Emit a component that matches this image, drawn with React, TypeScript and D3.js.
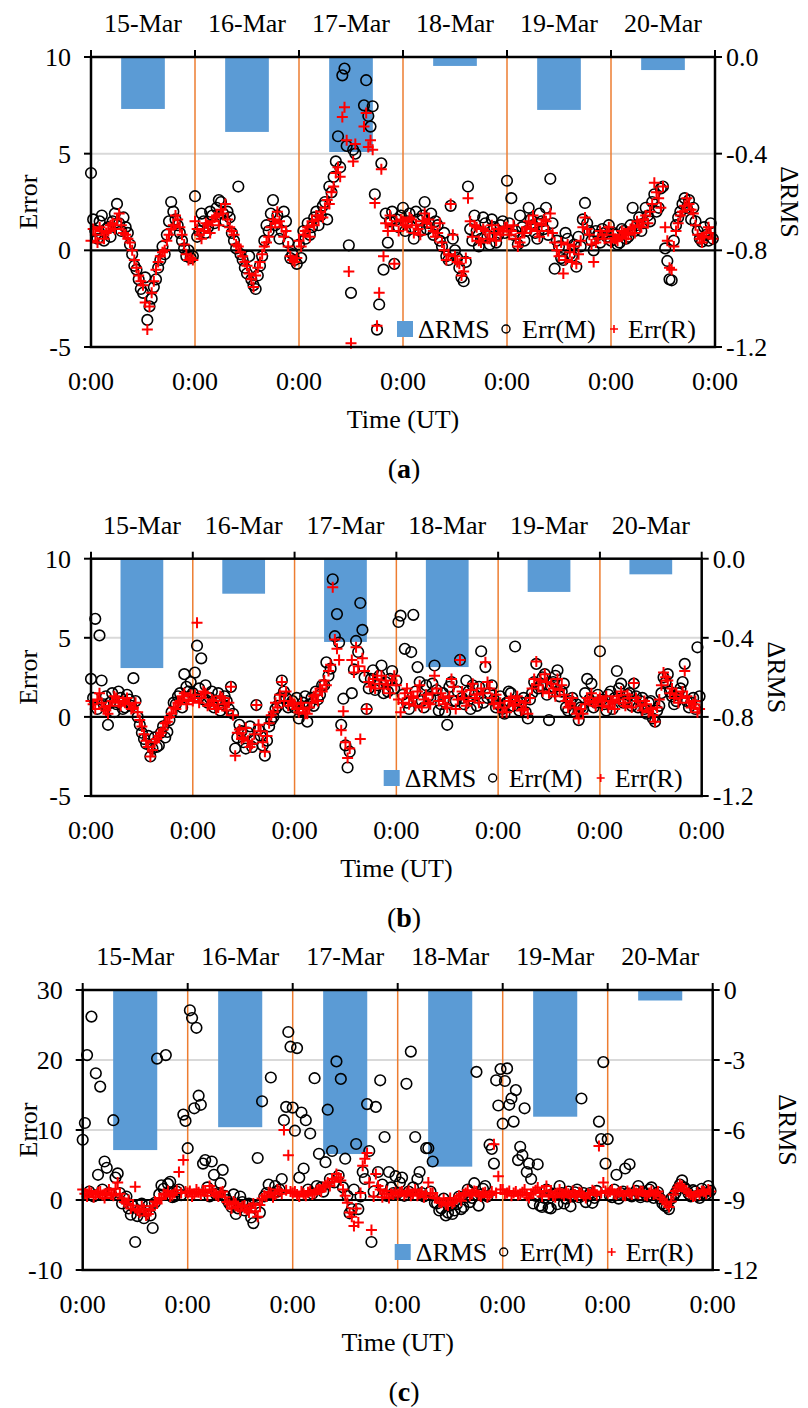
import React from 'react';
import * as d3 from 'd3';

const FONT = "'Liberation Serif', 'Times New Roman', serif";

const days = ['15-Mar', '16-Mar', '17-Mar', '18-Mar', '19-Mar', '20-Mar'];
const hourTicks = [0, 24, 48, 72, 96, 120, 144];
const hourTickLabel = '0:00';

// half-hourly errors, one row per day (null = no sample)
// panel (a)
const rmsA = [-0.215, -0.31, -0.393, -0.037, -0.219, -0.054];
const errMA = [
  [4.0, 1.6, 1.0, 0.6, 1.5, 1.8, 0.5, 1.1, 1.2, 0.7, 1.5, 1.9, 2.4, 1.4, 1.0, 1.7, 1.2, 0.9, 0.3, -0.2, -0.8, -1.0, -1.5, -2.0, -2.2, -1.4, -3.6, -2.9, -2.5, -1.9, -1.5, -0.9, -0.5, 0.2, -0.2, 0.8, 1.5, 2.5, 2.0, 1.6, 1.3, 0.9, 0.5, 0.1, -0.3, 0.0, -0.4, -0.3],
  [2.8, 0.7, 1.0, 1.9, 1.5, 0.9, 1.2, 2.0, 1.8, 1.4, 2.2, 2.6, 2.5, 1.9, 1.5, 2.0, 1.7, 0.9, 0.5, 0.1, 3.3, -0.2, -0.5, -0.9, -1.2, -0.3, -1.5, -1.8, -2.0, -1.3, -0.8, -0.3, 0.5, 1.3, 1.0, 1.9, 2.6, 1.3, 1.8, 0.6, 1.0, 2.0, 1.5, 0.4, -0.4, -0.2, -0.5, -0.7],
  [0.3, -0.4, 1.0, 0.6, 1.4, 0.8, 1.2, 1.7, 2.0, 1.3, 1.8, 2.3, 2.5, 1.6, 3.3, 3.0, 3.8, 4.6, 5.9, 4.3, 9.05, 9.4, 5.4, 0.26, -2.2, 5.2, 5.0, null, null, null, 7.5, 8.8, 6.95, 6.4, 7.45, 2.9, -4.1, -2.8, 4.5, -1.0, 1.9, 0.4, 1.5, 2.0, -0.7, 1.6, 1.2, 1.8],
  [2.2, 1.0, 1.5, 1.9, 1.2, 0.6, 2.0, 1.6, 1.0, 1.8, 2.5, 1.1, 1.4, 1.9, 0.8, 1.5, 1.3, 0.5, 0.2, 0.9, -0.3, -0.5, 2.3, 0.6, 0.0, -0.4, -0.9, -1.4, -1.6, -0.6, 3.3, 1.1, 0.5, 1.8, 1.0, 0.2, 0.6, 1.7, 1.4, 0.7, 0.3, 1.6, 1.2, 0.4, 0.8, 1.3, 1.5, 0.9],
  [3.6, 1.4, 2.7, 0.8, 1.0, 0.3, 1.8, 1.2, 0.5, 1.0, 2.2, 1.6, 1.3, 0.9, 0.6, 1.9, 1.5, 1.1, 2.2, 0.8, 3.7, 1.4, -0.95, 0.5, 0.2, -0.4, -0.5, 0.9, 0.6, -0.2, -0.3, 0.3, -0.85, 0.7, 0.2, 1.6, 2.45, 1.4, 1.0, 0.5, 0.0, 1.0, 0.8, 0.4, 1.1, 0.9, 0.7, 1.3],
  [0.5, 0.9, 0.8, 0.3, 0.4, 1.1, 1.0, 0.6, 0.7, 1.3, 2.2, 1.0, 1.3, 1.7, 1.0, 1.4, 2.2, 1.8, 1.5, 2.5, 2.9, 2.0, 2.2, 3.2, 3.3, 0.1, -0.55, -1.5, -1.55, 0.5, 1.3, 1.7, 2.0, 2.4, 2.7, 2.2, 2.6, 1.6, 2.2, 1.5, 1.0, 0.6, 0.45, 1.2, 0.8, 0.5, 1.4, 0.6],
];
const errRA = [
  [0.5, 1.1, 0.8, 0.4, 1.2, 1.0, 0.6, 0.9, 1.0, 1.3, 1.4, 1.1, 1.6, 1.9, 1.3, 0.9, 0.8, 0.6, 0.4, 0.0, -0.5, -0.9, -1.3, -1.6, -1.8, -2.7, -4.1, -2.9, -2.2, -1.6, -1.0, -0.6, -0.3, -0.1, 0.0, 0.5, 0.8, 1.1, 1.3, 1.8, 1.6, 1.2, 0.8, 0.3, -0.2, -0.5, -0.4, -0.5],
  [1.5, 1.1, 0.8, 0.6, 1.0, 1.4, 1.3, 0.9, 1.5, 1.7, 1.8, 1.3, 2.1, 1.9, 2.4, 1.6, 1.2, 1.0, 0.8, 0.3, 0.2, -0.1, -0.3, -0.6, -0.8, -1.2, -1.5, -1.9, -1.3, -0.9, -0.6, -0.2, 0.2, 0.4, 0.7, 1.2, 1.6, 1.4, 2.0, 1.5, 1.2, 0.7, 1.0, 0.2, -0.3, -0.5, -0.6, -0.4],
  [0.5, 0.2, 0.8, 1.0, 1.2, 0.7, 1.5, 1.3, 1.8, 1.6, 2.0, 1.7, 2.2, 2.6, 2.4, 3.0, 3.3, 4.0, 4.3, 3.8, 6.9, 7.4, 5.7, -1.1, -4.8, 4.6, 5.5, null, null, null, 6.4, 7.1, 5.35, 5.7, 5.2, 2.45, -3.9, -2.2, 4.2, -0.3, 1.4, 1.0, 1.8, 1.3, -0.7, 1.5, 1.0, 1.6],
  [1.5, 1.3, 1.2, 1.7, 1.6, 0.9, 1.3, 1.1, 0.8, 1.5, 1.9, 1.4, 1.6, 1.2, 1.0, 0.7, 0.9, 1.4, 0.4, 0.0, -0.5, -0.2, 2.4, 0.8, -0.3, -0.6, -0.7, -1.3, -1.1, -0.4, 2.7, 1.5, 0.7, 1.3, 1.2, 0.5, 0.4, 1.1, 1.0, 0.6, 0.6, 1.3, 0.9, 0.5, 1.1, 0.8, 1.0, 1.2],
  [1.2, 0.8, 1.0, 1.3, 0.6, 0.2, 0.4, 0.9, 0.9, 1.2, 1.5, 1.1, 1.8, 1.4, 1.0, 0.7, 1.3, 1.6, 1.5, 1.0, 1.9, 0.9, 0.4, 0.0, -0.3, 0.4, -1.2, -0.5, 0.3, -0.1, -0.6, 0.2, -0.7, -0.2, 0.5, 1.2, 1.7, 1.1, 0.8, 0.3, -0.6, 0.4, 0.6, 1.0, 0.8, 0.6, 1.0, 1.2],
  [0.4, 0.8, 0.6, 0.5, 0.7, 1.0, 0.9, 0.6, 0.8, 1.1, 1.2, 0.9, 1.5, 1.3, 1.2, 1.6, 1.8, 1.4, 2.0, 2.4, 3.5, 3.0, 2.7, 2.2, 3.3, 1.2, 0.5, -0.9, -1.0, 0.2, 1.0, 1.4, 1.8, 2.0, 2.3, 2.7, 2.4, 2.1, 1.9, 1.3, 0.8, 0.6, 0.4, 0.7, 0.9, 1.2, 0.9, 0.6],
];

// panel (b)
const rmsB = [-0.553, -0.177, -0.421, -0.548, -0.168, -0.079];
const errMB = [
  [2.4, 1.2, 6.2, 0.5, 5.15, 2.3, 0.8, 1.3, -0.5, 0.9, 1.5, 0.3, 0.8, 1.6, 1.2, 0.5, 0.6, 1.4, 1.1, 0.7, 2.45, 1.0, 0.0, -0.5, -1.0, -1.4, -1.7, -1.2, -2.5, -2.0, -1.3, -1.9, -1.8, -1.0, -0.6, -1.3, -0.95, -0.2, 0.3, 0.9, 0.8, 1.3, 1.5, 0.6, 2.7, 1.9, 1.6, 2.2],
  [1.5, 2.8, 4.5, 1.8, 3.7, 1.1, 2.0, 0.9, 1.2, 1.6, 0.6, 1.0, 1.5, 0.4, 0.8, 1.3, 1.0, 0.5, 1.9, 0.2, -2.0, -1.3, -0.5, -0.9, -1.6, -2.0, -1.0, -0.6, -1.9, -1.4, 0.75, -0.8, -1.2, -1.8, -2.45, -1.5, -0.6, -0.2, 0.0, 0.5, 0.7, 1.2, 2.3, 1.6, 1.2, 0.6, 0.8, 1.0],
  [0.6, 1.2, -0.1, 0.4, 0.9, 1.3, -0.3, 0.8, 1.2, 0.7, 1.6, 1.1, 1.4, 2.0, 2.0, 3.45, 2.6, 3.05, 8.7, 5.1, 6.5, 4.7, -0.5, 1.15, -1.8, -3.2, -2.2, 1.5, 3.0, 4.8, 4.1, 7.2, 5.5, 2.5, 0.5, 1.8, 2.4, 2.95, 1.7, 2.0, 2.6, 3.25, 1.5, 2.2, 1.6, 2.4, 2.9, 1.8],
  [2.3, 6.0, 6.4, 1.4, 4.3, 0.9, 0.5, 4.1, 6.45, 1.6, 3.15, 2.2, 1.0, 0.6, 2.0, 1.3, 1.2, 2.1, 3.25, 1.7, 0.4, 0.8, 1.5, 0.3, -0.5, 1.9, 2.2, 1.0, 1.0, 1.6, 3.6, 1.2, 0.8, 2.3, 1.6, 0.5, 2.0, 1.4, 0.7, 1.9, 4.15, 0.9, 3.15, 1.2, 1.5, 2.0, 1.1, 0.6],
  [0.8, 1.3, 0.5, 0.2, 0.9, 1.6, 1.5, 0.7, 4.45, 1.0, 0.4, 0.9, 1.2, 0.3, -0.1, 1.1, 1.5, 2.2, 3.35, 1.8, 2.0, 2.5, 2.7, 1.4, -0.2, 1.9, 2.2, 2.6, 2.95, 1.3, 1.6, 2.1, 0.6, 0.4, 1.0, 1.2, 0.3, 0.8, -0.2, 0.6, 0.5, 1.5, 2.4, 1.1, 2.1, 0.6, 0.9, 1.4],
  [4.15, 1.1, 0.8, 0.4, 1.4, 1.6, 0.5, 1.2, 2.9, 1.8, 2.1, 0.9, 1.0, 1.4, 1.5, 0.7, 2.1, 1.3, 0.6, 1.0, 1.2, 0.5, 0.2, 0.9, 1.0, -0.1, -0.3, 0.4, 0.7, 1.5, 2.5, 2.2, 2.7, 1.6, 1.3, 0.8, 1.0, 1.5, 1.8, 2.2, 3.35, 1.0, 0.6, 0.9, 1.2, 0.5, 4.4, 1.3],
];
const errRB = [
  [1.0, 0.8, 0.5, 1.1, 1.5, 0.9, 0.6, 0.4, 0.2, 0.7, 1.0, 1.3, 1.2, 0.9, 0.7, 1.0, 0.9, 1.2, 0.8, 0.5, 0.6, 0.9, 0.3, -0.2, -0.6, -1.1, -1.5, -1.9, -2.5, -2.1, -1.6, -1.4, -1.2, -1.0, -0.8, -0.4, -0.3, 0.0, 0.2, 0.6, 0.5, 0.9, 1.0, 1.3, 1.5, 0.8, 1.1, 1.4],
  [1.0, 1.4, 5.95, 0.9, 1.2, 1.6, 1.5, 0.7, 0.8, 1.1, 1.0, 0.5, 0.6, 1.3, 1.2, 0.8, 0.4, 0.9, 1.9, 0.1, -2.45, -1.0, -0.8, -1.4, -1.3, -0.7, -1.5, -1.9, -1.7, -1.1, 0.75, -0.5, -0.9, -1.6, -2.2, -1.2, -0.4, 0.1, 0.3, 0.9, 0.6, 1.4, 2.2, 1.0, 1.6, 0.7, 1.0, 0.9],
  [0.8, 0.5, 0.3, 0.9, 0.5, 0.2, 0.2, 0.6, 0.9, 1.3, 1.4, 1.0, 1.8, 1.6, 2.3, 2.0, 2.9, 3.3, 8.2, 4.9, 4.3, 3.6, -0.85, 0.35, -1.6, -2.6, -2.0, 3.6, 2.8, 4.4, 3.2, -1.4, 3.7, 2.9, 0.5, 2.2, 1.9, 2.4, 1.8, 2.6, 2.1, 2.6, 1.8, 2.3, 2.0, 1.5, 2.3, 2.6],
  [2.0, 1.1, 0.3, 0.9, 1.5, 1.8, 0.8, 1.3, 1.2, 0.7, 1.6, 2.0, 0.6, 1.1, 1.4, 0.9, 0.8, 1.5, 2.6, 1.8, 1.0, 1.5, 1.2, 0.8, 0.6, 1.3, 2.4, 1.9, 0.5, 1.1, 3.6, 1.6, 1.2, 0.7, 1.0, 1.7, 2.1, 1.2, 1.4, 0.9, 1.8, 1.5, 3.45, 2.2, 1.8, 1.2, 0.8, 1.4],
  [0.6, 0.9, 0.3, 0.6, 0.3, 1.0, 1.2, 0.7, 0.8, 1.3, 1.0, 0.4, 0.5, 0.9, 0.2, 1.2, 1.8, 2.4, 3.5, 2.0, 2.3, 1.6, 2.7, 2.2, 1.5, 2.1, 1.8, 1.3, 2.4, 1.7, 2.0, 1.4, 1.0, 0.6, 0.8, 1.2, 0.6, 0.2, -0.1, 0.5, 0.2, 0.8, 1.2, 1.0, 1.5, 0.9, 0.7, 1.1],
  [1.2, 0.7, 1.0, 1.3, 0.6, 1.0, 0.9, 0.5, 1.3, 1.1, 1.6, 0.9, 0.7, 1.4, 1.2, 0.6, 2.15, 1.2, 1.0, 0.7, 0.4, 1.0, 0.8, 0.3, 0.5, 0.1, -0.3, 0.6, 1.1, 2.0, 2.8, 2.5, 2.3, 1.5, 1.8, 1.2, 1.4, 0.9, 1.2, 1.6, 2.9, 1.3, 0.9, 0.6, 0.8, 1.0, 0.3, 0.5],
];

// panel (c)
const rmsC = [-6.86, -5.88, -7.03, -7.57, -5.43, -0.45];
const errMC = [
  [8.6, 11.0, 20.7, 1.2, 26.2, 0.5, 18.1, 3.6, 16.2, 1.5, 5.5, 4.6, 1.0, 0.8, 11.4, 3.2, 3.8, 1.0, -0.5, 0.2, 0.5, -1.2, -2.1, -0.9, -6.0, -2.3, -1.5, -0.5, -2.6, -1.6, -0.8, -2.2, -4.0, -0.4, 20.2, 0.8, 2.1, 1.6, 20.7, 2.3, 2.6, 0.4, 0.5, 1.2, 1.5, 0.7, 12.2, 11.3],
  [7.4, 27.1, 26.0, 13.1, 24.6, 14.9, 13.6, 5.2, 5.7, 1.8, 0.5, 5.5, 3.6, 0.8, 1.0, 2.4, 4.3, 0.6, 0.0, -0.5, -1.0, 0.8, -2.0, -1.2, 0.5, -0.3, -1.5, -0.8, -0.5, -2.5, -3.3, -1.0, 6.0, -1.8, 14.1, 0.5, 1.0, 2.2, 17.5, 0.9, 2.0, 1.2, 1.5, 3.0, 11.4, 13.3, 24.0, 21.9],
  [13.2, 9.9, 21.7, 3.2, 12.5, 4.5, 11.4, 1.5, 9.5, 0.9, 17.4, 2.0, 6.6, 1.8, 1.2, 5.4, 12.9, 3.0, 7.0, 2.5, 19.8, 3.5, 17.3, 1.8, 5.9, 0.6, -1.9, -1.3, 1.5, 8.0, -1.3, 0.5, 4.0, 3.0, 13.7, 7.0, -6.0, 1.2, 13.3, 4.0, 17.1, 2.2, 9.0, 0.6, 4.0, 1.8, 1.0, 3.4],
  [1.0, 2.5, 3.2, 0.6, 16.6, 1.2, 21.2, 1.8, 9.0, 3.0, 4.0, 1.0, 0.5, 7.4, 7.4, 1.2, 5.5, -0.4, -0.5, -1.5, -1.2, 0.2, -2.2, -1.8, -0.8, -2.0, -1.5, -0.6, 0.5, -1.3, -1.0, 0.4, 1.5, -0.3, 0.3, 2.4, 18.3, -0.8, 0.8, 1.6, 2.0, 0.5, 7.9, 7.3, 5.2, 17.1, 13.5, 18.7],
  [10.9, 17.0, 18.8, 13.6, 14.5, 11.2, 15.7, 5.7, 7.6, 6.4, 13.1, 4.0, 5.2, 3.0, -0.5, 0.6, 5.1, -0.8, -1.0, 0.3, 1.5, -1.1, -1.2, 0.9, 0.8, -0.6, 2.0, 1.0, -0.5, 0.2, 1.2, -0.9, 0.5, 1.1, 1.5, 0.4, 14.5, 1.0, -0.3, 0.6, 1.0, -0.4, 0.3, 1.3, 11.2, 8.7, 19.7, 5.2],
  [8.7, 0.6, 0.4, 1.5, 3.6, 0.2, 1.0, 1.2, 4.5, 0.9, 5.1, 0.5, 0.8, 1.3, 2.0, 0.4, 1.2, 1.0, 0.5, 1.5, 1.8, 0.3, 0.8, 1.1, 0.2, -0.5, -0.8, -1.0, -1.3, 0.2, 0.5, 1.0, 1.6, 2.2, 2.8, 1.8, 1.5, 0.9, 0.5, 1.4, 1.2, 0.6, 0.3, 1.6, 1.0, 0.8, 2.0, 1.3],
];
const errRC = [
  [1.5, 0.9, 0.5, 1.3, 1.0, 0.4, 0.8, 1.1, 1.2, 0.7, 0.3, 1.0, 1.5, 0.8, 0.6, 1.6, 2.5, 0.9, 0.2, -0.3, -0.5, 0.0, -1.2, -0.8, 1.9, -1.5, -1.8, -0.9, -1.3, -2.2, -2.0, -1.4, -0.9, -0.2, -0.5, 0.1, 0.3, 0.9, 0.8, 1.3, 0.5, 0.7, 1.0, 1.4, 4.0, 1.0, 5.7, 1.2],
  [1.0, 1.3, 0.5, 0.9, 1.5, 1.1, 0.8, 1.4, 1.2, 0.6, 2.0, 1.5, 1.0, 0.7, 0.5, 1.1, 1.2, 0.4, -0.3, -0.6, -1.2, -0.2, -0.5, -1.0, -1.5, -0.9, -0.8, -1.4, -1.8, -1.1, -0.5, -1.6, -2.4, -0.7, 0.2, 0.6, 0.5, 1.1, 1.0, 0.4, 0.8, 1.5, 1.3, 0.9, 10.0, 1.4, 6.4, 1.2],
  [1.0, 1.2, 0.8, 0.5, 1.2, 0.9, 0.6, 1.1, 1.3, 0.8, 1.0, 1.4, 1.5, 1.2, 1.8, 2.1, 2.5, 2.0, 3.0, 2.6, 3.7, 3.2, 2.8, 1.5, 0.6, -0.4, -1.8, -2.4, -3.7, -1.2, -3.2, 1.0, 4.9, 5.9, 6.7, 2.5, -4.3, 0.5, 3.7, 2.0, 1.5, 0.4, 0.9, 1.3, 0.3, 0.9, 0.8, 1.1],
  [0.8, 1.1, 1.2, 0.7, 1.0, 1.3, 0.6, 0.9, 1.5, 0.6, 0.9, 1.2, 0.4, 0.8, 2.5, 1.0, 1.0, 0.3, 0.2, -0.3, -0.4, 0.1, -0.6, -0.8, 0.3, -0.5, -0.2, 0.2, 0.6, -0.1, 0.8, 1.0, 1.4, 0.6, 0.9, 1.3, 1.2, 0.7, 0.5, 1.0, 1.1, 0.4, 0.7, 1.2, 7.95, 1.0, 3.4, 1.5],
  [1.5, 0.9, 1.0, 1.3, 0.6, 1.0, 1.2, 0.7, 0.8, 1.1, 1.5, 0.6, 0.3, 0.9, 1.0, 1.4, 1.8, 1.1, 0.5, 1.3, 2.0, 0.8, 1.2, 0.6, 0.4, 1.0, 1.5, 0.9, 0.6, 1.2, 0.9, 0.4, 1.3, 0.8, 0.5, 1.1, 1.0, 0.6, 0.3, 0.9, 0.8, 1.4, 1.2, 0.7, 7.7, 1.0, 2.5, 1.3],
  [1.0, 1.2, 1.5, 0.9, 0.8, 1.1, 1.2, 0.7, 0.6, 1.3, 1.0, 0.8, 1.4, 1.0, 0.9, 1.3, 1.2, 0.7, 0.6, 1.0, 1.3, 0.8, 0.9, 1.2, 0.5, 0.1, -0.3, -0.6, -1.0, -0.2, 0.8, 1.3, 1.8, 2.2, 2.0, 1.6, 1.2, 1.0, 0.8, 0.5, 0.6, 1.1, 0.8, 1.3, 1.2, 0.9, 1.5, 1.2],
];

const errTicksAB = [-5, 0, 5, 10];
const rmsTicksAB = [-1.2, -0.8, -0.4, 0.0];
const errTicksC = [-10, 0, 10, 20, 30];
const rmsTicksC = [-12, -9, -6, -3, 0];

const panels = [
  { tag: 'a', left: 91, right: 715, top: 57, bottom: 347, yDom: [-5, 10], yTicks: errTicksAB, rDom: [-1.2, 0], rTicks: rmsTicksAB, rFmt: d3.format('.1f'), rms: rmsA, errM: errMA, errR: errRA },
  { tag: 'b', left: 91, right: 701.7, top: 558.7, bottom: 796, yDom: [-5, 10], yTicks: errTicksAB, rDom: [-1.2, 0], rTicks: rmsTicksAB, rFmt: d3.format('.1f'), rms: rmsB, errM: errMB, errR: errRB },
  { tag: 'c', left: 82.7, right: 712.7, top: 990, bottom: 1270, yDom: [-10, 30], yTicks: errTicksC, rDom: [-12, 0], rTicks: rmsTicksC, rFmt: d3.format('d'), rms: rmsC, errM: errMC, errR: errRC },
];

const plain = (s: string) => s.replace('\u2212', '-');

// flatten day rows into [hour, value] samples
const samples = (rows: (number | null)[][]) =>
  rows.flatMap((row, d) =>
    row.map((v, k) => [d * 24 + (k * 24) / row.length, v] as [number, number | null]).filter((s) => s[1] !== null)
  ) as [number, number][];

function Panel({ p }: { p: any }) {
  const x = d3.scaleLinear().domain([0, 144]).range([p.left, p.right]);
  const y = d3.scaleLinear().domain(p.yDom).range([p.bottom, p.top]);
  const yr = d3.scaleLinear().domain(p.rDom).range([p.bottom, p.top]);
  const band = d3.scaleBand().domain(days).range([p.left, p.right]).paddingInner(0.58).paddingOuter(0.29);
  const midX = (p.left + p.right) / 2;
  const midY = (p.top + p.bottom) / 2;
  const lx = p.right - 318;
  const ly = p.bottom - 18;
  const cross = (cx: number, cy: number, s = 5.5) => `M${cx - s},${cy}H${cx + s}M${cx},${cy - s}V${cy + s}`;
  const ms = samples(p.errM);
  const rs = samples(p.errR);

  return (
    <g fontFamily={FONT} fontSize={26} fill="#000">
      {p.yTicks.filter((t: number) => t !== 0 && t !== p.yDom[0] && t !== p.yDom[1]).map((t: number) => (
        <line key={t} x1={p.left} x2={p.right} y1={y(t)} y2={y(t)} stroke="#d9d9d9" strokeWidth={2} />
      ))}
      {p.rms.map((v: number, i: number) => (
        <rect key={i} x={band(days[i])} width={band.bandwidth()} y={yr(0)} height={yr(v) - yr(0)} fill="#5b9bd5" />
      ))}
      <line x1={p.left} x2={p.right} y1={y(0)} y2={y(0)} stroke="#000" strokeWidth={2.2} />
      {hourTicks.slice(1, -1).map((h) => (
        <line key={h} x1={x(h)} x2={x(h)} y1={p.top} y2={p.bottom} stroke="#ed7d31" strokeWidth={1.5} />
      ))}
      {ms.map(([h, v], i) => (
        <circle key={i} cx={x(h)} cy={y(v)} r={5.3} fill="none" stroke="#000" strokeWidth={1.6} />
      ))}
      <path d={rs.map(([h, v]) => cross(x(h), y(v))).join('')} stroke="#ff0000" strokeWidth={2} fill="none" />
      <rect x={p.left} y={p.top} width={p.right - p.left} height={p.bottom - p.top} fill="none" stroke="#000" strokeWidth={2.5} />
      {hourTicks.map((h) => (
        <line key={h} x1={x(h)} x2={x(h)} y1={p.top - 7} y2={p.top} stroke="#000" strokeWidth={2} />
      ))}
      {p.yTicks.map((t: number) => (
        <g key={t}>
          <line x1={p.left - 7} x2={p.left} y1={y(t)} y2={y(t)} stroke="#000" strokeWidth={2} />
          <text x={p.left - 20} y={y(t)} dy="0.34em" textAnchor="end">{plain(String(t))}</text>
        </g>
      ))}
      {p.rTicks.map((t: number) => (
        <g key={t}>
          <line x1={p.right} x2={p.right + 7} y1={yr(t)} y2={yr(t)} stroke="#000" strokeWidth={2} />
          <text x={p.right + 11} y={yr(t)} dy="0.34em" textAnchor="start">{plain(p.rFmt(t))}</text>
        </g>
      ))}
      {days.map((d) => (
        <text key={d} x={band(d)! + band.bandwidth() / 2} y={p.top - 25} textAnchor="middle">{d}</text>
      ))}
      {hourTicks.map((h) => (
        <text key={h} x={x(h)} y={p.bottom + 43} textAnchor="middle">{hourTickLabel}</text>
      ))}
      <text x={midX} y={p.bottom + 81} textAnchor="middle">Time (UT)</text>
      <text transform={`translate(28,${midY}) rotate(-90)`} textAnchor="middle" dy="0.35em">Error</text>
      <text transform={`translate(${p.right + 75},${midY}) rotate(90)`} textAnchor="middle" dy="0.35em">ΔRMS</text>
      <rect x={lx} y={ly - 8} width={16} height={16} fill="#5b9bd5" />
      <text x={lx + 21} y={ly + 9}>ΔRMS</text>
      <circle cx={lx + 109} cy={ly} r={4} fill="none" stroke="#000" strokeWidth={1.4} />
      <text x={lx + 125} y={ly + 9}>Err(M)</text>
      <path d={cross(lx + 217, ly, 4)} stroke="#ff0000" strokeWidth={1.6} />
      <text x={lx + 231} y={ly + 9}>Err(R)</text>
      <text x={404} y={p.bottom + 131} textAnchor="middle" fontSize={28}>
        (<tspan fontWeight="bold">{p.tag}</tspan>)
      </text>
    </g>
  );
}

export default function App() {
  return (
    <svg width={808} height={1408} style={{ position: 'absolute', left: 0, top: 0, background: '#fff' }}>
      <rect width={808} height={1408} fill="#fff" />
      {panels.map((p) => (
        <Panel key={p.tag} p={p} />
      ))}
    </svg>
  );
}
